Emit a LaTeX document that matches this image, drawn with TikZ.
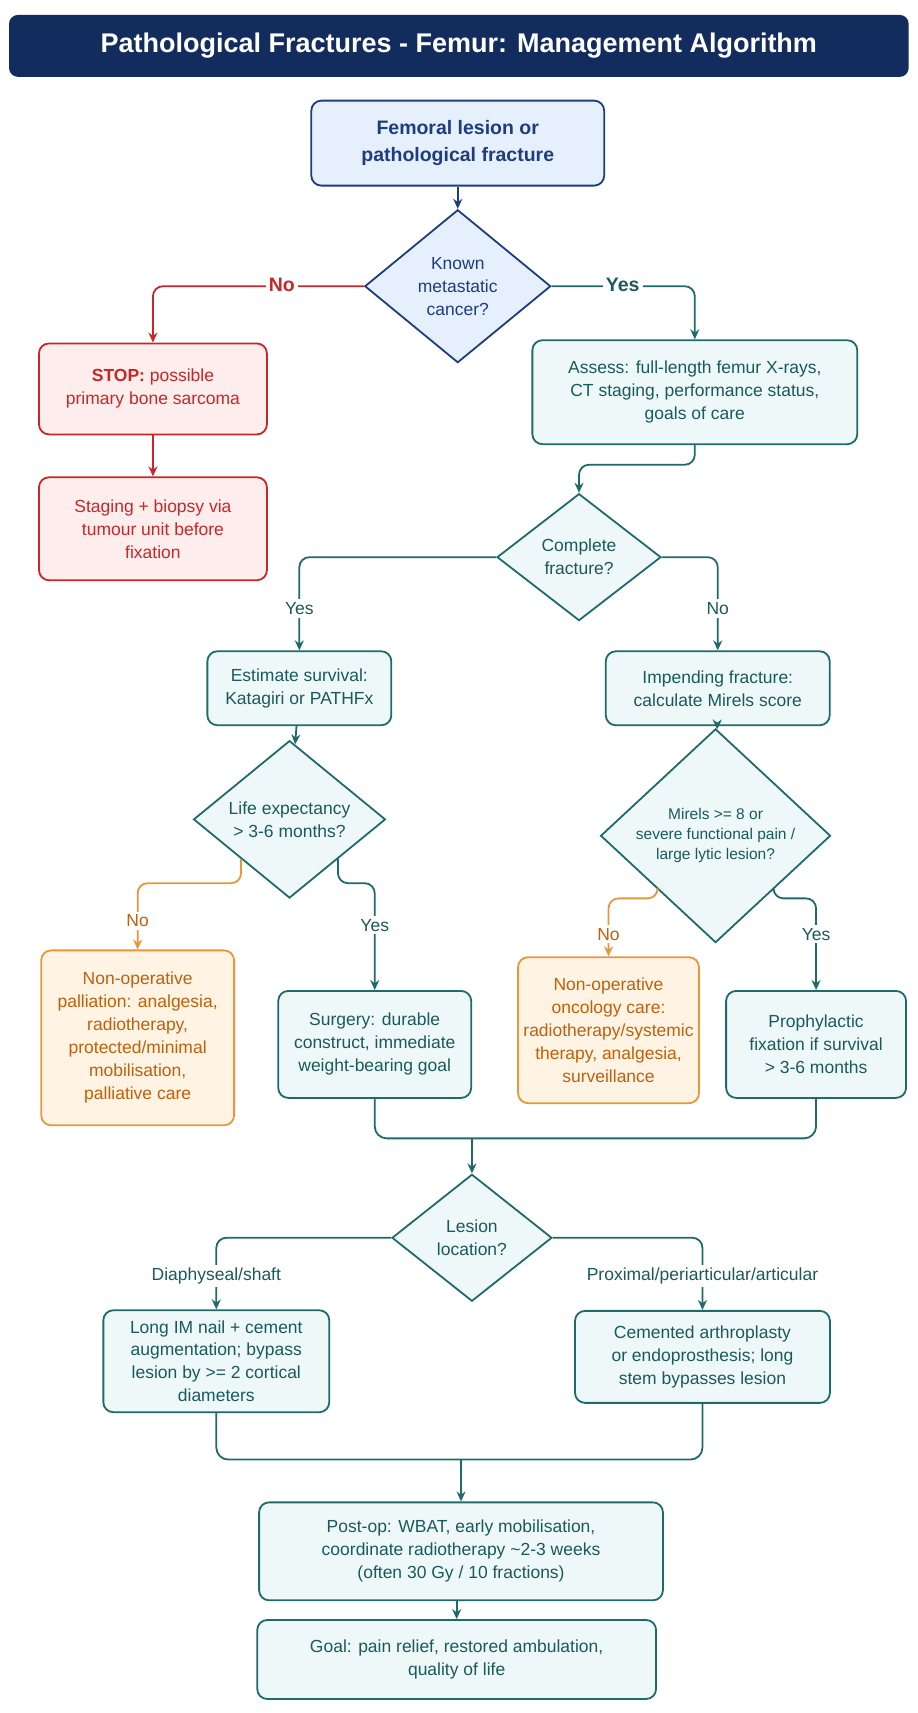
\documentclass[tikz,border=0pt]{standalone}
\usepackage{fontspec}
\setmainfont{Liberation Sans}
\usetikzlibrary{shapes.geometric,arrows.meta}
\definecolor{navy}{HTML}{132C5E}
\definecolor{navyb}{HTML}{1E3C80}
\definecolor{bluef}{HTML}{E6F0FC}
\definecolor{teal}{HTML}{1F6B6B}
\definecolor{tealt}{HTML}{1A5A5C}
\definecolor{tealf}{HTML}{EEF8F8}
\definecolor{redb}{HTML}{C62828}
\definecolor{redf}{HTML}{FDEDED}
\definecolor{orb}{HTML}{E8973A}
\definecolor{ort}{HTML}{C0600A}
\definecolor{orf}{HTML}{FFF4E4}
\begin{document}
\begin{tikzpicture}[x=1.0929pt,y=-1.0929pt,
  txt/.style={font=\fontsize{17.5}{23}\selectfont, align=center},
  tbox/.style={txt,draw=teal,fill=tealf,text=tealt,line width=1.8pt,rounded corners=10pt,inner sep=4pt},
  rbox/.style={txt,draw=redb,fill=redf,text=redb,line width=1.8pt,rounded corners=10pt,inner sep=4pt},
  obox/.style={txt,draw=orb,fill=orf,text=ort,line width=1.8pt,rounded corners=10pt,inner sep=4pt},
  dia/.style={txt,diamond,draw=teal,fill=tealf,text=tealt,line width=1.8pt,inner sep=0pt},
  tl/.style={draw=teal,line width=1.8pt},
  ta/.style={tl,-{Stealth[length=10pt,width=9pt]}},
  lab/.style={txt,fill=white,inner sep=3pt,text=tealt}]
\useasboundingbox (0,0) rectangle (840,1568);
\fill[white] (0,0) rectangle (840,1568);
% title
\node[fill=navy,rounded corners=9pt,minimum width=900pt,minimum height=62pt,text=white,font=\fontsize{27}{32}\selectfont\bfseries] (title) at (420,42) {Pathological Fractures - Femur: Management Algorithm};
% nodes
\node[txt,draw=navyb,fill=bluef,text=navyb,line width=1.8pt,rounded corners=10pt,minimum width=293pt,minimum height=85pt,font=\fontsize{19.5}{27}\selectfont\bfseries] (b1) at (419,131) {Femoral lesion or\\pathological fracture};
\node[dia,draw=navyb,fill=bluef,text=navyb,minimum width=186pt,minimum height=153pt] (d1) at (419,262) {Known\\metastatic\\cancer?};
\node[rbox,minimum width=228pt,minimum height=91pt] (stop) at (140,356) {\textbf{STOP:} possible\\primary bone sarcoma};
\node[rbox,minimum width=228pt,minimum height=103pt] (stag) at (140,484) {Staging + biopsy via\\tumour unit before\\fixation};
\node[tbox,minimum width=325pt,minimum height=104pt] (assess) at (636,359) {Assess: full-length femur X-rays,\\CT staging, performance status,\\goals of care};
\node[dia,minimum width=164pt,minimum height=127pt] (d2) at (530,510) {Complete\\fracture?};
\node[tbox,minimum width=184pt,minimum height=74pt] (est) at (274,630) {Estimate survival:\\Katagiri or PATHFx};
\node[tbox,minimum width=224pt,minimum height=74pt] (imp) at (657,630) {Impending fracture:\\calculate Mirels score};
\node[dia,minimum width=192pt,minimum height=131pt] (d3) at (265,750) {Life expectancy\\> 3-6 months?};
\node[dia,minimum width=230pt,minimum height=164pt,font=\fontsize{15.5}{20}\selectfont] (d4) at (655,765) {Mirels >= 8 or\\severe functional pain /\\large lytic lesion?};
\node[obox,minimum width=193pt,minimum height=175pt] (nop1) at (126,950) {Non-operative\\palliation: analgesia,\\radiotherapy,\\protected/minimal\\mobilisation,\\palliative care};
\node[tbox,minimum width=193pt,minimum height=107pt] (surg) at (343,956) {Surgery: durable\\construct, immediate\\weight-bearing goal};
\node[obox,minimum width=181pt,minimum height=146pt] (nop2) at (557,943) {Non-operative\\oncology care:\\radiotherapy/systemic\\therapy, analgesia,\\surveillance};
\node[tbox,minimum width=180pt,minimum height=107pt] (pro) at (747,956) {Prophylactic\\fixation if survival\\> 3-6 months};
\node[dia,minimum width=160pt,minimum height=127pt] (d5) at (432,1133) {Lesion\\location?};
\node[tbox,minimum width=226pt,minimum height=102pt] (nail) at (198,1246) {Long IM nail + cement\\augmentation; bypass\\lesion by >= 2 cortical\\diameters};
\node[tbox,minimum width=255pt,minimum height=92pt] (art) at (643,1242) {Cemented arthroplasty\\or endoprosthesis; long\\stem bypasses lesion};
\node[tbox,minimum width=404pt,minimum height=98pt] (post) at (422,1420) {Post-op: WBAT, early mobilisation,\\coordinate radiotherapy \textasciitilde2-3 weeks\\(often 30 Gy / 10 fractions)};
\node[tbox,minimum width=399pt,minimum height=79pt] (goal) at (418,1519) {Goal: pain relief, restored ambulation,\\quality of life};
% coordinates
\coordinate (m1) at (432,1042);
\coordinate (m2) at (422,1336);
% connectors
\draw[ta,draw=navyb] (b1) -- (d1);
\draw[redb,line width=1.8pt,-{Stealth[length=10pt,width=9pt]},rounded corners=10pt] (d1.west) -| (stop.north);
\node[txt,fill=white,text=redb,font=\fontsize{19.5}{23}\selectfont\bfseries] (lno1) at (258,261) {No};
\draw[ta,draw=redb] (stop) -- (stag);
\draw[ta,rounded corners=10pt] (d1.east) -| (assess.north);
\node[txt,fill=white,text=tealt,font=\fontsize{19.5}{23}\selectfont\bfseries] (lyes1) at (570,261) {Yes};
\draw[ta,rounded corners=10pt] (assess.south) -- ++(0,18) -| (d2.north);
\draw[ta,rounded corners=10pt] (d2.west) -| (est.north);
\node[lab] (lyes2) at (274,557) {Yes};
\draw[ta,rounded corners=10pt] (d2.east) -| (imp.north);
\node[lab] (lno2) at (657,557) {No};
\draw[ta] (est) -- (d3);
\draw[ta] (imp) -- (d4);
\draw[orb,line width=1.8pt,-{Stealth[length=10pt,width=9pt]},rounded corners=10pt] (d3.south west) -- ++(0,22) -| (nop1.north);
\node[lab,text=ort] (lno3) at (126,843) {No};
\draw[ta,rounded corners=10pt] (d3.south east) -- ++(0,22) -| (surg.north);
\node[lab] (lyes3) at (343,847) {Yes};
\draw[orb,line width=1.8pt,-{Stealth[length=10pt,width=9pt]},rounded corners=10pt] (d4.south west) -- ++(0,8) -| (nop2.north);
\node[lab,text=ort] (lno4) at (557,855) {No};
\draw[ta,rounded corners=10pt] (d4.south east) -- ++(0,8) -| (pro.north);
\node[lab] (lyes4) at (747,855) {Yes};
\draw[tl,rounded corners=12pt] (surg.south) |- (m1);
\draw[tl,rounded corners=12pt] (pro.south) |- (m1);
\draw[ta] (m1) -- (d5.north);
\draw[ta,rounded corners=10pt] (d5.west) -| (nail.north);
\node[lab] (ldia) at (198,1168) {Diaphyseal/shaft};
\draw[ta,rounded corners=10pt] (d5.east) -| (art.north);
\node[lab] (lprox) at (643,1168) {Proximal/periarticular/articular};
\draw[tl,rounded corners=12pt] (nail.south) |- (m2);
\draw[tl,rounded corners=12pt] (art.south) |- (m2);
\draw[ta] (m2) -- (post.north);
\draw[ta] (post.south -| goal) -- (goal.north);
\end{tikzpicture}
\end{document}
